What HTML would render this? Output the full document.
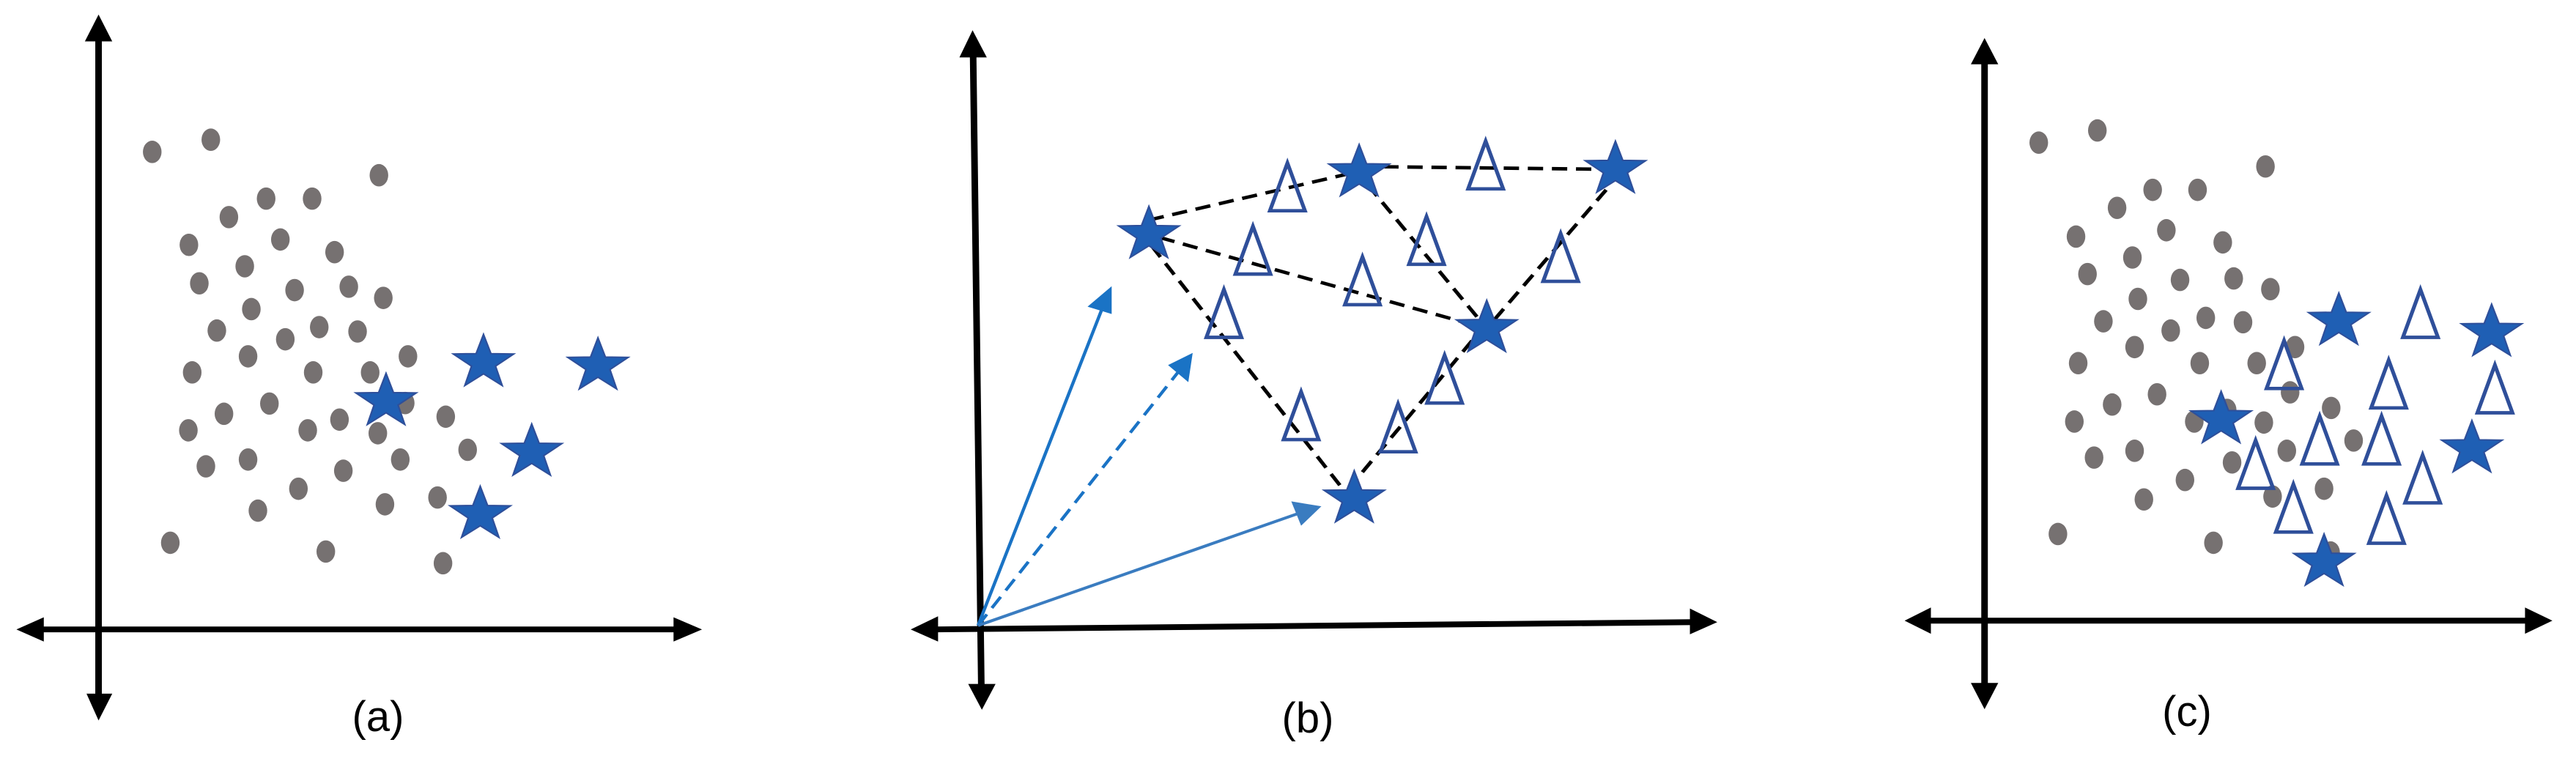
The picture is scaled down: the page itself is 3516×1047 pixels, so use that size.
<!DOCTYPE html>
<html><head><meta charset="utf-8"><style>
html,body{margin:0;padding:0;background:#fff;}
svg{display:block;}
text{font-family:"Liberation Sans",sans-serif;}
</style></head><body>
<svg width="3516" height="1047" viewBox="0 0 3516 1047" xmlns="http://www.w3.org/2000/svg">
<defs>
<path id="st" d="M0,-58 L13.5,-18.6 L55.2,-17.9 L21.9,7.1 L34.1,46.9 L0,23 L-34.1,46.9 L-21.9,7.1 L-55.2,-17.9 L-13.5,-18.6Z" fill="#1f5fb4" stroke="#2e4f9a" stroke-width="3"/>
<path id="tr" d="M0,-50 L32,48 L-32,48Z" fill="none" stroke="#2f4f9a" stroke-width="7"/>
<ellipse id="d" rx="17" ry="23" fill="#767171"/>
</defs>

<!-- Panel a -->
<g transform="translate(0,0) scale(0.7474,0.6645)">
<g stroke="#000" stroke-width="12" fill="none">
<line x1="180" y1="80" x2="180" y2="1430"/>
<line x1="75" y1="1293" x2="1235" y2="1293"/>
</g>
<g fill="#000">
<path d="M155,85 L180,30 L205,85Z"/>
<path d="M158,1425 L180,1480 L205,1425Z"/>
<path d="M80,1268 L30,1293 L80,1318Z"/>
<path d="M1230,1268 L1282,1293 L1230,1318Z"/>
</g>
<g>
<use href="#d" x="278" y="312"/><use href="#d" x="385" y="287"/><use href="#d" x="692" y="360"/><use href="#d" x="486" y="408"/><use href="#d" x="570" y="408"/><use href="#d" x="418" y="446"/><use href="#d" x="345" y="503"/><use href="#d" x="512" y="492"/><use href="#d" x="611" y="518"/><use href="#d" x="447" y="547"/><use href="#d" x="364" y="582"/><use href="#d" x="538" y="596"/><use href="#d" x="637" y="589"/><use href="#d" x="700" y="612"/><use href="#d" x="459" y="635"/><use href="#d" x="396" y="679"/><use href="#d" x="521" y="697"/><use href="#d" x="583" y="672"/><use href="#d" x="653" y="681"/><use href="#d" x="745" y="732"/><use href="#d" x="453" y="732"/><use href="#d" x="351" y="765"/><use href="#d" x="572" y="765"/><use href="#d" x="676" y="765"/><use href="#d" x="492" y="829"/><use href="#d" x="409" y="850"/><use href="#d" x="740" y="828"/><use href="#d" x="344" y="884"/><use href="#d" x="562" y="884"/><use href="#d" x="620" y="862"/><use href="#d" x="690" y="890"/><use href="#d" x="814" y="856"/><use href="#d" x="376" y="958"/><use href="#d" x="453" y="944"/><use href="#d" x="627" y="967"/><use href="#d" x="731" y="944"/><use href="#d" x="854" y="924"/><use href="#d" x="545" y="1004"/><use href="#d" x="703" y="1036"/><use href="#d" x="799" y="1022"/><use href="#d" x="471" y="1049"/><use href="#d" x="311" y="1115"/><use href="#d" x="595" y="1133"/><use href="#d" x="809" y="1157"/>
</g>
<use href="#st" x="705" y="825"/><use href="#st" x="883" y="745"/><use href="#st" x="1092" y="752"/><use href="#st" x="971" y="929"/><use href="#st" x="877" y="1057"/>
</g>

<!-- Panel b -->
<g transform="translate(1172,0) scale(0.7474,0.6645)">
<g stroke="#000" stroke-width="12" fill="none">
<line x1="209" y1="110" x2="224" y2="1410"/>
<line x1="140" y1="1293" x2="1525" y2="1278"/>
</g>
<g fill="#000">
<path d="M184,118 L208,62 L234,118Z"/>
<path d="M200,1405 L225,1458 L250,1405Z"/>
<path d="M145,1266 L95,1293 L145,1318Z"/>
<path d="M1518,1250 L1568,1278 L1518,1303Z"/>
</g>
<g stroke="#000" stroke-width="7" stroke-dasharray="28,16" fill="none">
<line x1="530" y1="452" x2="914" y2="352"/>
<line x1="914" y1="342" x2="1382" y2="348"/>
<line x1="550" y1="488" x2="1147" y2="675"/>
<line x1="930" y1="380" x2="1147" y2="675"/>
<line x1="1365" y1="390" x2="1147" y2="675"/>
<line x1="535" y1="505" x2="895" y2="1020"/>
<line x1="1120" y1="700" x2="905" y2="990"/>
</g>
<g stroke="#1a73c5" stroke-width="6" fill="#1a73c5">
<line x1="218" y1="1285" x2="446" y2="630"/>
<path d="M418,630 L462,588 L462,645Z" stroke="none"/>
<line x1="218" y1="1285" x2="590" y2="755" stroke-dasharray="28,16"/>
<path d="M565,750 L610,725 L602,785Z" stroke="none"/>
<line x1="218" y1="1285" x2="810" y2="1052" stroke="#3a7cc0"/>
<path d="M790,1030 L845,1040 L808,1080Z" stroke="none" fill="#3a7cc0"/>
</g>
<use href="#tr" x="783" y="385"/><use href="#tr" x="1145" y="340"/><use href="#tr" x="720" y="515"/><use href="#tr" x="1037" y="495"/><use href="#tr" x="920" y="578"/><use href="#tr" x="1282" y="530"/><use href="#tr" x="667" y="645"/><use href="#tr" x="1070" y="780"/><use href="#tr" x="808" y="855"/><use href="#tr" x="985" y="880"/>
<use href="#st" x="530" y="482"/><use href="#st" x="914" y="355"/><use href="#st" x="1382" y="348"/><use href="#st" x="1147" y="675"/><use href="#st" x="905" y="1025"/>
</g>

<!-- Panel c -->
<g transform="translate(2344,0) scale(0.7474,0.6645)">
<g stroke="#000" stroke-width="12" fill="none">
<line x1="488" y1="125" x2="488" y2="1410"/>
<line x1="385" y1="1275" x2="1480" y2="1275"/>
</g>
<g fill="#000">
<path d="M463,132 L488,78 L513,132Z"/>
<path d="M463,1403 L488,1457 L513,1403Z"/>
<path d="M390,1248 L342,1275 L390,1302Z"/>
<path d="M1475,1248 L1525,1275 L1475,1302Z"/>
</g>
<g>
<use href="#d" x="587" y="293"/><use href="#d" x="694" y="268"/><use href="#d" x="1001" y="342"/><use href="#d" x="795" y="390"/><use href="#d" x="877" y="390"/><use href="#d" x="730" y="427"/><use href="#d" x="655" y="486"/><use href="#d" x="820" y="473"/><use href="#d" x="923" y="498"/><use href="#d" x="758" y="529"/><use href="#d" x="676" y="563"/><use href="#d" x="845" y="575"/><use href="#d" x="943" y="572"/><use href="#d" x="1010" y="594"/><use href="#d" x="768" y="614"/><use href="#d" x="705" y="660"/><use href="#d" x="828" y="679"/><use href="#d" x="892" y="653"/><use href="#d" x="960" y="662"/><use href="#d" x="1055" y="713"/><use href="#d" x="762" y="713"/><use href="#d" x="659" y="746"/><use href="#d" x="881" y="746"/><use href="#d" x="985" y="746"/><use href="#d" x="803" y="810"/><use href="#d" x="721" y="831"/><use href="#d" x="1046" y="806"/><use href="#d" x="1121" y="838"/><use href="#d" x="652" y="866"/><use href="#d" x="871" y="866"/><use href="#d" x="998" y="868"/><use href="#d" x="931" y="842"/><use href="#d" x="688" y="940"/><use href="#d" x="762" y="926"/><use href="#d" x="940" y="950"/><use href="#d" x="1040" y="926"/><use href="#d" x="1162" y="905"/><use href="#d" x="854" y="986"/><use href="#d" x="1108" y="1004"/><use href="#d" x="1014" y="1020"/><use href="#d" x="779" y="1026"/><use href="#d" x="622" y="1097"/><use href="#d" x="906" y="1115"/><use href="#d" x="1120" y="1135"/>
</g>
<use href="#tr" x="1284" y="645"/><use href="#tr" x="1035" y="750"/><use href="#tr" x="1226" y="790"/><use href="#tr" x="1420" y="800"/><use href="#tr" x="1100" y="905"/><use href="#tr" x="1213" y="905"/><use href="#tr" x="983" y="955"/><use href="#tr" x="1288" y="985"/><use href="#tr" x="1052" y="1045"/><use href="#tr" x="1222" y="1068"/>
<use href="#st" x="1135" y="660"/><use href="#st" x="1414" y="683"/><use href="#st" x="920" y="862"/><use href="#st" x="1378" y="922"/><use href="#st" x="1108" y="1155"/>
</g>

<text x="516" y="998" font-size="58" text-anchor="middle" fill="#000">(a)</text>
<text x="1785" y="1000" font-size="58" text-anchor="middle" fill="#000">(b)</text>
<text x="2985" y="991" font-size="58" text-anchor="middle" fill="#000">(c)</text>
</svg>
</body></html>
